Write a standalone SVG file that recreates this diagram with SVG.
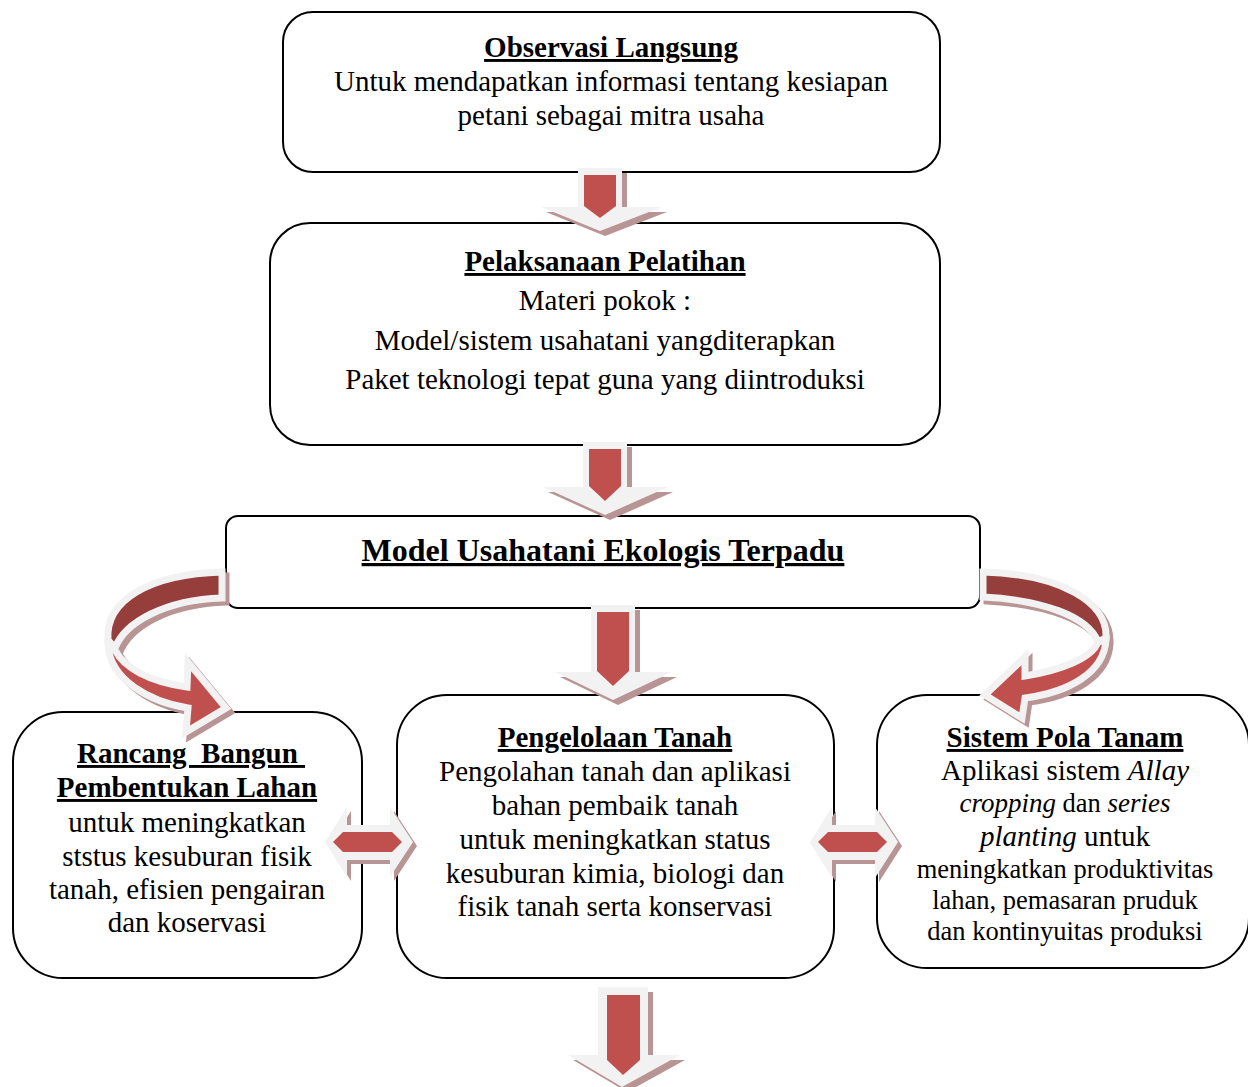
<svg xmlns="http://www.w3.org/2000/svg" width="1248" height="1087" viewBox="0 0 1248 1087">
<style>
.box{fill:#fff;stroke:#000;stroke-width:2}
text{font-family:"Liberation Serif","Times New Roman",serif;fill:#000;text-anchor:middle}
.t{font-size:29px}
.s{font-size:26.5px}
.h{font-size:29px;font-weight:bold;text-decoration:underline}
.ol{fill:#F2F2F2}
.sh{fill:#B99494}
.red{fill:#C0504D}
.dark{fill:#953E3C}
.cv{stroke:#F2F2F2;stroke-width:7;stroke-linejoin:miter}
.cvs{fill:none;stroke:#B99494;stroke-width:7}
</style>
<g id="node-model">
<rect class="box" x="226" y="516" width="754" height="92" rx="12"/>
<text x="603" y="561" style="font-size:32px;font-weight:bold;text-decoration:underline">Model Usahatani Ekologis Terpadu</text>
</g>
<g id="node-observasi">
<rect class="box" x="283" y="12" width="657" height="160" rx="30"/>
<text class="h" x="611" y="57">Observasi Langsung</text>
<text class="t" x="611" y="91">Untuk mendapatkan informasi tentang kesiapan</text>
<text class="t" x="611" y="125">petani sebagai mitra usaha</text>
</g>
<g id="node-pelatihan">
<rect class="box" x="270" y="223" width="670" height="222" rx="40"/>
<text class="h" x="605" y="271">Pelaksanaan Pelatihan</text>
<text class="t" x="605" y="310">Materi pokok :</text>
<text class="t" x="605" y="350">Model/sistem usahatani yangditerapkan</text>
<text class="t" x="605" y="389">Paket teknologi tepat guna yang diintroduksi</text>
</g>
<g id="node-rancang">
<rect class="box" x="13" y="712" width="349" height="266" rx="50"/>
<text class="h" x="191" y="763" style="white-space:pre">Rancang  Bangun </text>
<text class="h" x="187" y="797">Pembentukan Lahan</text>
<text class="t" x="187" y="832">untuk meningkatkan</text>
<text class="t" x="187" y="866">ststus kesuburan fisik</text>
<text class="t" x="187" y="899">tanah, efisien pengairan</text>
<text class="t" x="187" y="932">dan koservasi</text>
</g>
<g id="node-tanah">
<rect class="box" x="397" y="695" width="437" height="283" rx="50"/>
<text class="h" x="615" y="747">Pengelolaan Tanah</text>
<text class="t" x="615" y="781">Pengolahan tanah dan aplikasi</text>
<text class="t" x="615" y="815">bahan pembaik tanah</text>
<text class="t" x="615" y="849">untuk meningkatkan status</text>
<text class="t" x="615" y="883">kesuburan kimia, biologi dan</text>
<text class="t" x="615" y="916">fisik tanah serta konservasi</text>
</g>
<g id="node-pola">
<rect class="box" x="877" y="695" width="372" height="273" rx="50"/>
<text class="h" x="1065" y="747">Sistem Pola Tanam</text>
<text class="t" x="1065" y="780">Aplikasi sistem <tspan font-style="italic">Allay</tspan></text>
<text x="1065" y="812" style="font-size:26.5px"><tspan font-style="italic" style="font-size:27px">cropping</tspan> dan <tspan font-style="italic" style="font-size:27px">series</tspan></text>
<text class="t" x="1065" y="846"><tspan font-style="italic">planting</tspan> untuk</text>
<text class="s" x="1065" y="878">meningkatkan produktivitas</text>
<text class="s" x="1065" y="909">lahan, pemasaran pruduk</text>
<text class="s" x="1065" y="940">dan kontinyuitas produksi</text>
</g>
<g id="connectors">
<g>
<polygon class="sh" points="583,173 627,173 627,212 667,212 605,236 546,212 583,212"/>
<polygon class="ol" points="578,168 622,168 622,207 662,207 600,231 541,207 578,207"/>
<polygon class="red" points="584,175 616,175 616,206 600,218 584,206"/>
</g>
<g>
<polygon class="sh" points="588,447 632,447 632,492 673,492 610,520 548,492 588,492"/>
<polygon class="ol" points="583,442 627,442 627,487 668,487 605,515 543,487 583,487"/>
<polygon class="red" points="589,449 621,449 621,486 605,501 589,486"/>
</g>
<g>
<polygon class="sh" points="596,610 640,610 640,677 677,677 618,705 560,677 596,677"/>
<polygon class="ol" points="591,605 635,605 635,672 672,672 613,700 555,672 591,672"/>
<polygon class="red" points="597,612 629,612 629,671 613,686 597,671"/>
</g>
<g>
<polygon class="sh" points="603,992 653,992 653,1060 685,1060 627,1092 573,1060 603,1060"/>
<polygon class="ol" points="598,987 648,987 648,1055 680,1055 622,1087 568,1055 598,1055"/>
<polygon class="red" points="607,995 640,995 640,1060 623,1075 607,1060"/>
</g>
<g>
<polygon class="sh" points="329,846 351,811 351,829 394,829 394,811 417,846 394,881 394,864 351,864 351,881"/>
<polygon class="ol" points="325,842 347,807 347,825 390,825 390,807 413,842 390,877 390,860 347,860 347,877"/>
<polygon class="red" points="333,842 343,832 392,832 402,842 392,852 343,852"/>
</g>
<g>
<polygon class="sh" points="814,846 836,811 836,829 879,829 879,811 902,846 879,882 879,864 836,864 836,882"/>
<polygon class="ol" points="810,842 832,807 832,825 875,825 875,807 898,842 875,878 875,860 832,860 832,878"/>
<polygon class="red" points="818,842 828,832 877,832 887,842 877,852 828,852"/>
</g>
<g>
<path class="cvs" transform="translate(4,4)" d="M222 572 C150 574 105 600 108 642 C110 680 150 702 188 708 L186 732 L226 708 L188 662 L187 687 C150 682 124 668 115 650 C125 622 165 600 222 598 Z"/>
<path class="red cv" d="M108 645 C110 680 150 702 188 708 L186 732 L226 708 L188 662 L187 687 C150 682 124 668 115 650 Z"/>
<path class="dark cv" d="M222 572 C150 574 105 600 108 640 L115 648 C125 622 165 600 222 598 Z"/>
</g>
<g>
<path class="cvs" transform="translate(4,4)" d="M983 572 C1060 574 1108 602 1106 640 C1104 672 1070 692 1025 698 L1022 718 L985 695 L1025 657 L1025 676 C1062 670 1092 658 1098 642 C1088 616 1042 600 983 597 Z"/>
<path class="red cv" d="M1106 640 C1104 672 1070 692 1025 698 L1022 718 L985 695 L1025 657 L1025 676 C1062 670 1092 658 1098 642 Z"/>
<path class="dark cv" d="M983 572 C1060 574 1108 602 1106 638 L1098 642 C1088 616 1042 600 983 597 Z"/>
</g>
</g>
</svg>
